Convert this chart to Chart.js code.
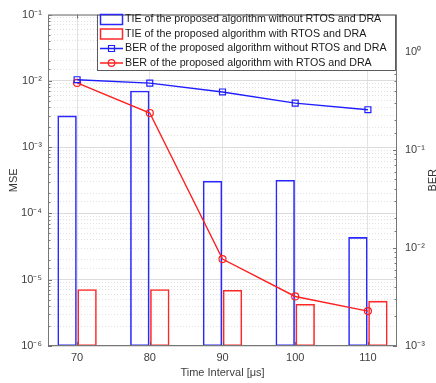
<!DOCTYPE html>
<html>
<head>
<meta charset="utf-8">
<script src="https://cdn.jsdelivr.net/npm/chart.js@4"></script>
<style>
  html, body { margin: 0; padding: 0; background: #fff; }
</style>
</head>
<body>
<canvas id="chart" width="436" height="383"></canvas>
<script>
// time intervals on the x axis (microseconds)
let intervals = [70, 80, 90, 100, 110]

// MSE of the TIE (left axis, bars)
let tieWithout = [3.0e-3, 7.1e-3, 3.1e-4, 3.2e-4, 4.4e-5]
let tieWith = [7.2e-6, 7.2e-6, 7.0e-6, 4.3e-6, 4.8e-6]

// BER (right axis, lines)
let berWithout = [0.52, 0.48, 0.39, 0.30, 0.257]
let berWith = [0.482, 0.238, 0.0077, 0.0032, 0.00227]

let seriesLabels = [
    'TIE of the proposed algorithm without RTOS and DRA',
    'TIE of the proposed algorithm with RTOS and DRA',
    'BER of the proposed algorithm without RTOS and DRA',
    'BER of the proposed algorithm with RTOS and DRA'
]

let fontFamily = '"Liberation Sans", Arial, sans-serif'
let supers = {'-': '\u207B', '0': '\u2070', '1': '\u00B9', '2': '\u00B2', '3': '\u00B3',
              '4': '\u2074', '5': '\u2075', '6': '\u2076', '7': '\u2077', '8': '\u2078', '9': '\u2079'}

function isDecade(v) {
    let e = Math.log10(v)
    return Math.abs(e - Math.round(e)) < 1e-9
}

// label only the powers of ten, e.g. 10⁻³
function decadeLabel(v) {
    if (!isDecade(v)) return ''
    let exp = String(Math.round(Math.log10(v)))
    return '10' + exp.split('').map(c => supers[c]).join('')
}

function points(values) {
    return intervals.map((x, i) => ({x: x, y: values[i]}))
}

// frame, inward tick marks, right axis title and the legend box
let decorations = {
    id: 'decorations',
    afterDraw(chart) {
        let ctx = chart.ctx
        let area = chart.chartArea
        ctx.save()

        // tick marks pointing inward, like the original plot
        ctx.strokeStyle = '#555'
        ctx.lineWidth = 0.8
        let yl = chart.scales.y, yr = chart.scales.y2, x = chart.scales.x
        yl.ticks.forEach(t => {
            let p = Math.round(yl.getPixelForValue(t.value)) + 0.5
            let len = isDecade(t.value) ? 4 : 2.5
            ctx.beginPath(); ctx.moveTo(area.left, p); ctx.lineTo(area.left + len, p); ctx.stroke()
        })
        yr.ticks.forEach(t => {
            let p = Math.round(yr.getPixelForValue(t.value)) + 0.5
            let len = isDecade(t.value) ? 4 : 2.5
            ctx.beginPath(); ctx.moveTo(area.right, p); ctx.lineTo(area.right - len, p); ctx.stroke()
        })
        x.ticks.forEach(t => {
            let p = Math.round(x.getPixelForValue(t.value)) + 0.5
            ctx.beginPath(); ctx.moveTo(p, area.bottom); ctx.lineTo(p, area.bottom - 4); ctx.stroke()
            ctx.beginPath(); ctx.moveTo(p, area.top); ctx.lineTo(p, area.top + 4); ctx.stroke()
        })

        // box round the plot area
        ctx.strokeStyle = '#777'
        ctx.lineWidth = 1
        ctx.strokeRect(area.left + 0.5, area.top + 0.5, area.right - area.left - 1, area.bottom - area.top - 1)

        // right axis title, read bottom to top
        ctx.fillStyle = '#333'
        ctx.font = '11px ' + fontFamily
        ctx.textAlign = 'center'
        ctx.textBaseline = 'middle'
        ctx.translate(433, (area.top + area.bottom) / 2)
        ctx.rotate(-Math.PI / 2)
        ctx.fillText('BER', 0, 0)
        ctx.setTransform(1, 0, 0, 1, 0, 0)

        // legend
        let boxLeft = 97, boxTop = area.top, boxRight = area.right - 1, boxBottom = 71
        ctx.fillStyle = '#fff'
        ctx.fillRect(boxLeft, boxTop, boxRight - boxLeft, boxBottom - boxTop)
        ctx.strokeStyle = '#333'
        ctx.lineWidth = 0.8
        ctx.strokeRect(boxLeft + 0.5, boxTop + 0.5, boxRight - boxLeft - 1, boxBottom - boxTop - 1)

        let rows = [19.5, 34, 48.5, 63]
        chart.data.datasets.forEach((ds, i) => {
            let y = rows[i]
            ctx.strokeStyle = ds.borderColor
            ctx.lineWidth = 1.5
            if (ds.type === 'bar') {
                ctx.strokeRect(100.5, y - 5, 22, 10)
            } else {
                ctx.beginPath(); ctx.moveTo(100, y); ctx.lineTo(123, y); ctx.stroke()
                ctx.lineWidth = 1.2
                ctx.beginPath()
                if (ds.pointStyle === 'rect') {
                    ctx.rect(108.5, y - 3, 6, 6)
                } else {
                    ctx.arc(111.5, y, 3.3, 0, Math.PI * 2)
                }
                ctx.stroke()
            }
            ctx.fillStyle = '#1a1a1a'
            ctx.textAlign = 'left'
            ctx.textBaseline = 'middle'
            ctx.font = '10.7px ' + fontFamily
            ctx.fillText(ds.label, 125, y)
        })
        ctx.restore()
    }
}

let canvas = document.querySelector('#chart')
let context = canvas.getContext('2d')

let chart = new Chart(context, {
    data: {
        datasets: [
            {
                type: 'bar', label: seriesLabels[0], data: points(tieWithout), yAxisID: 'y',
                borderColor: 'rgb(40,40,255)', backgroundColor: 'rgba(0,0,0,0)',
                borderWidth: 1.6, borderSkipped: false, order: 2,
                categoryPercentage: 0.55, barPercentage: 0.97
            },
            {
                type: 'bar', label: seriesLabels[1], data: points(tieWith), yAxisID: 'y',
                borderColor: 'rgb(255,40,40)', backgroundColor: 'rgba(0,0,0,0)',
                borderWidth: 1.6, borderSkipped: false, order: 2,
                categoryPercentage: 0.55, barPercentage: 0.97
            },
            {
                type: 'line', label: seriesLabels[2], data: points(berWithout), yAxisID: 'y2',
                borderColor: 'rgb(30,30,255)', backgroundColor: 'rgba(0,0,0,0)',
                borderWidth: 1.4, pointStyle: 'rect', pointRadius: 4.2,
                pointBorderWidth: 1.2, order: 1
            },
            {
                type: 'line', label: seriesLabels[3], data: points(berWith), yAxisID: 'y2',
                borderColor: 'rgb(255,30,30)', backgroundColor: 'rgba(0,0,0,0)',
                borderWidth: 1.4, pointStyle: 'circle', pointRadius: 3.5,
                pointBorderWidth: 1.2, order: 1
            }
        ]
    },
    options: {
        responsive: false,
        animation: false,
        layout: {padding: {top: 10, left: 0, right: 0, bottom: 0}},
        plugins: {
            legend: {display: false},
            tooltip: {enabled: false}
        },
        scales: {
            x: {
                type: 'linear', position: 'bottom', min: 66, max: 114, offset: false,
                afterBuildTicks: (scale) => { scale.ticks = intervals.map(v => ({value: v})) },
                afterFit: (scale) => { scale.height = 37 },
                grid: {color: '#e3e3e3', lineWidth: 1, drawTicks: false, offset: false},
                border: {display: false},
                ticks: {color: '#404040', padding: 5, font: {family: fontFamily, size: 11}},
                title: {
                    display: true, text: 'Time Interval [\u03BCs]', color: '#404040',
                    font: {family: fontFamily, size: 11}, padding: {top: 0, bottom: 3}
                }
            },
            y: {
                type: 'logarithmic', position: 'left', min: 1e-6, max: 1e-1,
                afterFit: (scale) => { scale.width = 48 },
                grid: {
                    drawTicks: false,
                    color: (c) => isDecade(c.tick.value) ? '#dcdcdc' : '#e2e2e2'
                },
                border: {
                    display: false,
                    dash: (c) => (c.tick && isDecade(c.tick.value)) ? [] : [1, 2]
                },
                ticks: {
                    autoSkip: false, color: '#404040', padding: 6,
                    font: {family: fontFamily, size: 11},
                    callback: (v) => decadeLabel(v)
                },
                title: {
                    display: true, text: 'MSE', color: '#333',
                    font: {family: fontFamily, size: 11}, padding: {top: 7, bottom: 0}
                }
            },
            y2: {
                type: 'logarithmic', position: 'right', min: 1e-3, max: 2.4,
                afterFit: (scale) => { scale.width = 39 },
                grid: {drawOnChartArea: false, drawTicks: false},
                border: {display: false},
                ticks: {
                    autoSkip: false, color: '#404040', padding: 8,
                    font: {family: fontFamily, size: 11},
                    callback: (v) => decadeLabel(v)
                }
            }
        }
    },
    plugins: [decorations]
})
</script>
</body>
</html>
